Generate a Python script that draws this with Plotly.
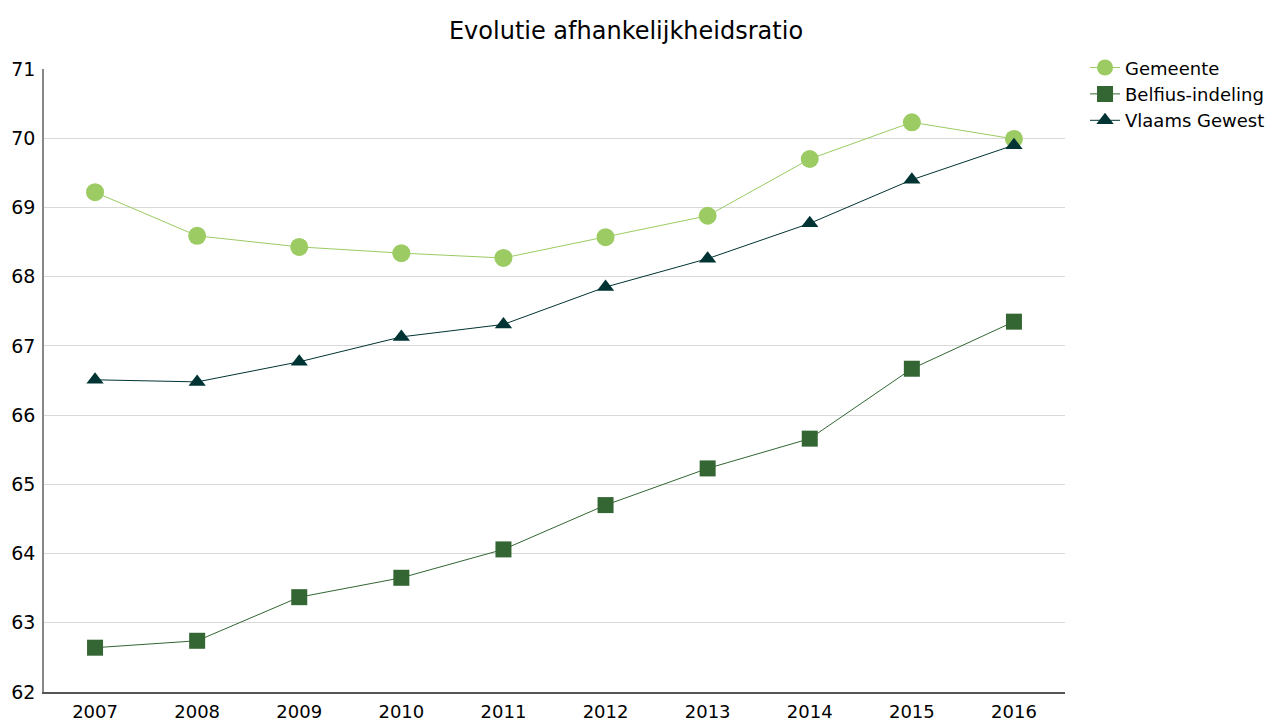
import plotly.graph_objects as go

years = [2007, 2008, 2009, 2010, 2011, 2012, 2013, 2014, 2015, 2016]
gemeente = [69.22, 68.59, 68.43, 68.34, 68.27, 68.57, 68.88, 69.70, 70.23, 69.99]
belfius = [62.64, 62.74, 63.37, 63.65, 64.06, 64.70, 65.23, 65.66, 66.67, 67.35]
vlaams = [66.51, 66.48, 66.77, 67.13, 67.31, 67.85, 68.26, 68.77, 69.40, 69.90]
yticks = [62, 63, 64, 65, 66, 67, 68, 69, 70, 71]

FONT = "DejaVu Sans"
fig = go.Figure()
fig.add_trace(go.Scatter(x=years, y=gemeente, name="Gemeente", mode="lines+markers",
                         line=dict(color="#9BCB62", width=1),
                         marker=dict(symbol="circle", size=18, color="#9BCB62")))
fig.add_trace(go.Scatter(x=years, y=belfius, name="Belfius-indeling", mode="lines+markers",
                         line=dict(color="#336633", width=1),
                         marker=dict(symbol="square", size=16, color="#336633")))
fig.add_trace(go.Scatter(x=years, y=vlaams, name="Vlaams Gewest", mode="lines+markers",
                         line=dict(color="#003333", width=1),
                         marker=dict(symbol="triangle-up", size=15, color="#003333")))

fig.update_layout(
    width=1275, height=725,
    paper_bgcolor="white", plot_bgcolor="white",
    margin=dict(l=44, r=210, t=69, b=33),
    title=dict(text="Evolutie afhankelijkheidsratio", x=0.491, xanchor="center", y=0.958, yanchor="middle",
               font=dict(family=FONT, size=24, color="#000")),
    font=dict(family=FONT, size=19, color="#000"),
    showlegend=True,
    legend=dict(xref="container", yref="container", x=0.851, y=0.932, xanchor="left", yanchor="top",
                font=dict(size=18), tracegroupgap=0, itemwidth=30),
    xaxis=dict(range=[2006.5, 2016.5], tickvals=years, showgrid=False, showline=True,
               linecolor="#555", linewidth=1.5, ticks="", zeroline=False, automargin=False,
               ticklabelstandoff=3, tickfont=dict(size=18)),
    yaxis=dict(range=[62, 71], tickvals=yticks, showgrid=True, gridcolor="#D9D9D9", gridwidth=1,
               showline=True, linecolor="#888", linewidth=1.5, ticks="", zeroline=False, automargin=False,
               ticklabelstandoff=3, tickfont=dict(size=19)),
)
fig.write_html("out.html", config={"displayModeBar": False},
               post_script="document.body.style.margin='0';")
